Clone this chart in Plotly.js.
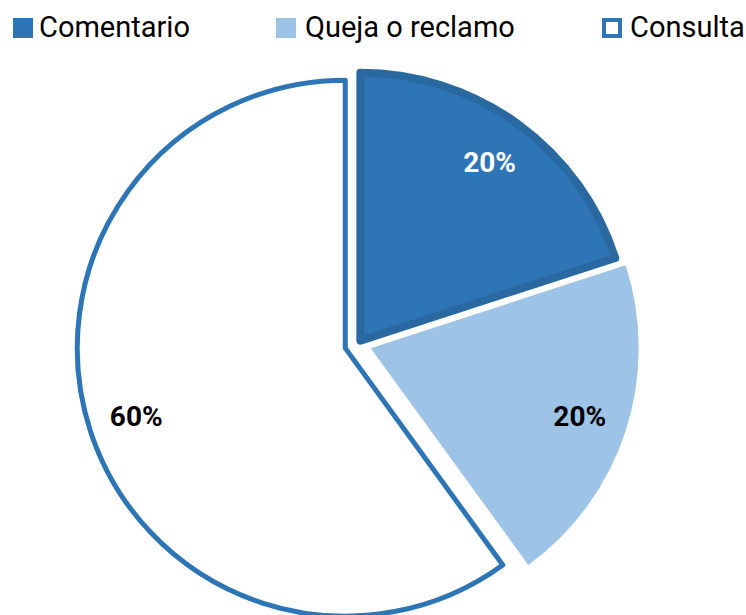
<!DOCTYPE html>
<html>
<head>
<meta charset="utf-8">
<script src="https://cdn.plot.ly/plotly-3.0.1.min.js"></script>
<style>
  html, body { margin: 0; padding: 0; overflow: hidden; background: #fff; }
  #chart { width: 746px; height: 640px; }
</style>
</head>
<body>
<div id="chart"></div>
<script>
// Tipos de solicitud
const labels = ['Comentario', 'Queja o reclamo', 'Consulta'];
const values = [20, 20, 60];
const fillColors = ['#2E75B6', '#9DC3E6', '#FFFFFF'];
const lineColors = ['#2A68A2', '#FFFFFF', '#2E75B6'];
const lineWidths = [8, 0, 5];
const textColors = ['#FFFFFF', '#000000', '#000000'];
const pulls = [0.015, 0.05, 0.05];

const W = 746, H = 640;
const FONT = 'Roboto, "Liberation Sans", sans-serif';
const domain = { x: [76.6 / W, 639.4 / W], y: [14.6 / H, 577.4 / H] };

// the slices themselves
const slices = {
    type: 'pie',
    labels: labels,
    values: values,
    sort: false,
    direction: 'clockwise',
    rotation: 0,
    pull: pulls,
    marker: {
        colors: fillColors,
        line: { color: lineColors, width: lineWidths }
    },
    textinfo: 'none',
    hoverinfo: 'label+percent',
    domain: domain
};

// same pie again, transparent with a hole, only to put the % labels out in the ring
const pctLabels = {
    type: 'pie',
    labels: labels,
    values: values,
    sort: false,
    direction: 'clockwise',
    rotation: 0,
    pull: pulls,
    hole: 0.64,
    marker: {
        colors: ['rgba(0,0,0,0)', 'rgba(0,0,0,0)', 'rgba(0,0,0,0)'],
        line: { width: 0 }
    },
    textinfo: 'percent',
    textposition: 'inside',
    insidetextorientation: 'horizontal',
    textfont: { family: FONT, size: 28, color: textColors, weight: 'bold' },
    hoverinfo: 'skip',
    domain: domain
};

// Legend drawn by hand so that the square size and spacing follow the original
const legendSquareX = [13, 276, 602];
const legendTextX = [39, 305, 630];
const shapes = [];
const annotations = [];
labels.forEach((lab, i) => {
    const x0 = legendSquareX[i];
    const inset = i === 2 ? 2 : 0;
    shapes.push({
        type: 'rect', xref: 'paper', yref: 'paper',
        x0: (x0 + inset) / W, x1: (x0 + 20 - inset) / W,
        y0: 1 - (38 - inset) / H, y1: 1 - (18 + inset) / H,
        fillcolor: i === 2 ? '#FFFFFF' : fillColors[i],
        line: { color: i === 2 ? '#2E75B6' : fillColors[i], width: i === 2 ? 4 : 0 }
    });
    annotations.push({
        xref: 'paper', yref: 'paper',
        x: legendTextX[i] / W, y: 1 - 27 / H,
        xanchor: 'left', yanchor: 'middle',
        xshift: -2,
        text: lab, showarrow: false,
        font: { family: FONT, size: 29, color: '#000000' }
    });
});

const layout = {
    width: W,
    height: H,
    margin: { l: 0, r: 0, t: 0, b: 0 },
    showlegend: false,
    paper_bgcolor: '#ffffff',
    plot_bgcolor: '#ffffff',
    shapes: shapes,
    annotations: annotations
};

Plotly.newPlot('chart', [slices, pctLabels], layout, { displayModeBar: false, staticPlot: true });
</script>
</body>
</html>
